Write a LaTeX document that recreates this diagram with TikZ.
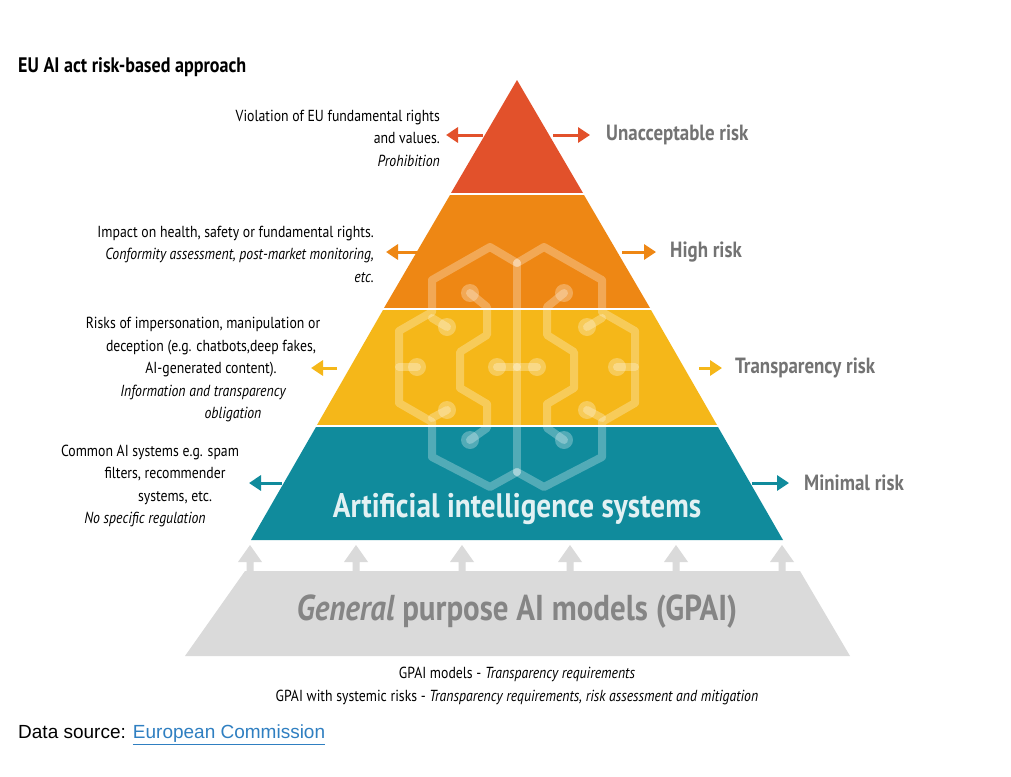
\documentclass[tikz,border=0pt]{standalone}
\usepackage{fontspec}
\setmainfont{PT Sans}[FakeStretch=0.86]
\newfontfamily\plain{Liberation Sans}
\begin{document}
\begin{tikzpicture}[x=1pt,y=-1pt,
 lab/.style={font=\fontsize{16}{22.5}\selectfont,inner sep=0pt},
 rlab/.style={font=\fontsize{22}{24}\selectfont\bfseries,text=black!55,anchor=west,inner sep=0pt},
 arr/.style={line width=3pt,-{Triangle[length=12pt,width=15pt]}},
 brain/.style={white,opacity=0.28,line width=8pt,line join=round,line cap=round},
 dot/.style={white,opacity=0.28}]
\usetikzlibrary{arrows.meta}
\definecolor{cR}{HTML}{E2512B}\definecolor{cO}{HTML}{EE8714}
\definecolor{cY}{HTML}{F5B719}\definecolor{cT}{HTML}{108B9C}
\definecolor{cG}{HTML}{DADADA}
\useasboundingbox (0,0) rectangle (1011,776);
\fill[white] (0,0) rectangle (1011,776);
% tiers
\fill[cR] (517,80) -- (583,193) -- (451,193) -- cycle;
\fill[cO] (450,195) -- (584,195) -- (650,308) -- (384,308) -- cycle;
\fill[cY] (383,310) -- (651,310) -- (717,425) -- (317,425) -- cycle;
\fill[cT] (316,427) -- (718,427) -- (783,540) -- (251,540) -- cycle;
% gray base
\fill[cG] (245,571) -- (800,571) -- (850,656) -- (185,656) -- cycle;
\foreach \x in {250,356,462,570,676,782}{
 \fill[cG] (\x-3.5,571) -- (\x-3.5,562) -- (\x-12,562) -- (\x,545) -- (\x+12,562) -- (\x+3.5,562) -- (\x+3.5,571) -- cycle;}
% brain
\begin{scope}
\clip (517,80) -- (783,540) -- (251,540) -- cycle;
\foreach \s in {1,-1}{
\begin{scope}[xshift=517pt,xscale=\s,xshift=-517pt]
\draw[brain] (517,263) -- (490,247) -- (432,280) -- (432,312) -- (399,331) -- (399,403) -- (432,422) -- (432,457) -- (490,487) -- (517,472);
\draw[brain] (470,293) -- (487,307) -- (487,335) -- (460,352) -- (460,388) -- (487,404) -- (487,428) -- (470,440);
\draw[brain] (447,327) -- (432,318);
\draw[brain] (447,410) -- (432,418);
\draw[brain] (417,367) -- (399,367);
\fill[dot] (470,293) circle (9) (447,327) circle (9) (447,410) circle (9) (470,440) circle (9) (417,367) circle (9) (497,367) circle (9);
\draw[brain] (497,367) -- (517,367);
\end{scope}}
\draw[brain] (517,263) -- (517,472);
\end{scope}
\draw[white,line width=1.5pt] (300,194) -- (700,194) (300,309) -- (740,309) (300,426) -- (740,426);
% arrows
\draw[arr,cR] (483,135) -- (446,135); \draw[arr,cR] (553,135) -- (590,135);
\draw[arr,cO] (418,252) -- (386,252); \draw[arr,cO] (622,252) -- (656,252);
\draw[arr,cY] (337,368) -- (311,368); \draw[arr,cY] (699,368) -- (722,368);
\draw[arr,cT] (282,483) -- (249,483); \draw[arr,cT] (752,483) -- (789,483);
% right labels
\node[rlab] (r1) at (606,135) {Unacceptable risk};
\node[rlab] (r2) at (670,252) {High risk};
\node[rlab] (r3) at (735,368) {Transparency risk};
\node[rlab] (r4) at (804,483) {Minimal risk};
% left labels
\node[lab,align=right,anchor=east] (l1) at (440,138) {Violation of EU fundamental rights\\and values.\\\itshape Prohibition};
\node[lab,align=right,anchor=east] (l2) at (374,254) {Impact on health, safety or fundamental rights.\\\itshape Conformity assessment, post-market monitoring,\\\itshape etc.\hspace{22pt}};
\node[lab,align=center] (l3) at (203,370) {Risks of impersonation, manipulation or\\\hspace{16pt}deception (e.g. chatbots,deep fakes,\\\hspace{16pt}AI-generated content).\\\itshape Information and transparency\\\itshape\hspace{60pt}obligation};
\node[lab,align=center] (l4) at (150,486) {Common AI systems e.g. spam\\\hspace{30pt}filters, recommender\\\hspace{50pt}systems, etc.\\\itshape\hspace{-10pt}No specific regulation};
% inner texts
\node[font=\fontsize{34}{36}\selectfont\bfseries,text=white!88!cT,inner sep=0pt] (ai) at (517,509) {Artificial intelligence systems};
\node[font=\fontsize{36}{36}\selectfont\bfseries,text=black!48,inner sep=0pt] (gp) at (517,612) {\itshape General\upshape{} purpose AI models (GPAI)};
% bottom
\node[lab,align=center] (b) at (517,686) {GPAI models - \itshape Transparency requirements\\GPAI with systemic risks - \itshape Transparency requirements, risk assessment and mitigation};
\node[font=\fontsize{21}{22}\selectfont\bfseries,anchor=west,inner sep=0pt] (t) at (18,67) {EU AI act risk-based approach};
\node[font=\plain\fontsize{19}{22}\selectfont,anchor=west,inner sep=0pt] (ds) at (18,735) {Data source: \textcolor[HTML]{2F7FC1}{\underline{European Commission}}};
\end{tikzpicture}
\end{document}
